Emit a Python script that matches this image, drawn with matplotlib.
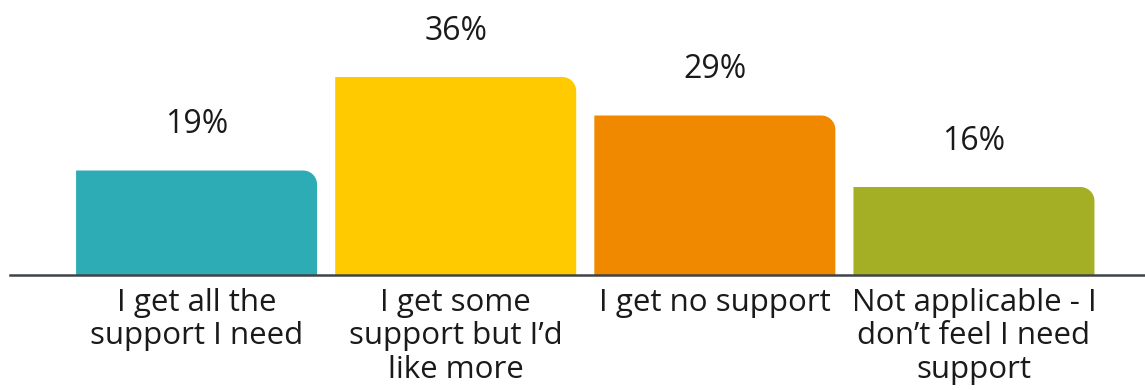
import numpy as np
import matplotlib.pyplot as plt
from matplotlib.path import Path
from matplotlib.patches import PathPatch

categories = ["I get all the\nsupport I need",
              "I get some\nsupport but I\u2019d\nlike more",
              "I get no support",
              "Not applicable - I\ndon\u2019t feel I need\nsupport"]
values = [19, 36, 29, 16]
colors = ["#2EACB6", "#FFCB00", "#F08800", "#A4AF25"]

plt.rcParams['font.family'] = ['Open Sans', 'DejaVu Sans']

W, H, DPI = 11.45, 3.9, 100
fig = plt.figure(figsize=(W, H), dpi=DPI)
# axes: left edge at 10px, baseline 115px from bottom, top at figure top
ax = fig.add_axes([10 / 1145, 115 / 390, 1 - 10 / 1145, 275 / 390])
x0, x1 = -0.72, 3.66
ax.set_xlim(x0, x1)
ax.set_ylim(0, 50)

px_x = 1135 / (x1 - x0)   # pixels per x unit
px_y = 275 / 50           # pixels per y unit
rad = 14                  # corner radius, px
bw = 241 / px_x


def round_bar(xc, h, color):
    rx = rad / px_x
    ry = rad / px_y
    l, r = xc - bw / 2, xc + bw / 2
    verts = [(l, 0), (l, h), (r - rx, h)]
    for t in np.linspace(np.pi / 2, 0, 12)[1:]:
        verts.append((r - rx + rx * np.cos(t), h - ry + ry * np.sin(t)))
    verts += [(r, 0), (l, 0)]
    codes = [Path.MOVETO] + [Path.LINETO] * (len(verts) - 2) + [Path.CLOSEPOLY]
    ax.add_patch(PathPatch(Path(verts, codes), facecolor=color, edgecolor='none'))


for i, (v, c) in enumerate(zip(values, colors)):
    round_bar(i, v, c)
    ax.annotate(f"{v}%", (i, v), xytext=(0, 27), textcoords='offset points',
                ha='center', va='baseline', fontsize=23, color='#1a1a1a')
    ax.annotate(categories[i], (i, 0), xytext=(0, -9), textcoords='offset points',
                ha='center', va='top', fontsize=22.5, color='#1a1a1a',
                linespacing=1.17,
                multialignment='center', annotation_clip=False)

ax.axhline(0, color='#3F4447', linewidth=1.8, clip_on=False)
for s in ax.spines.values():
    s.set_visible(False)
ax.set_xticks([])
ax.set_yticks([])

fig.savefig("out.png", dpi=DPI)
